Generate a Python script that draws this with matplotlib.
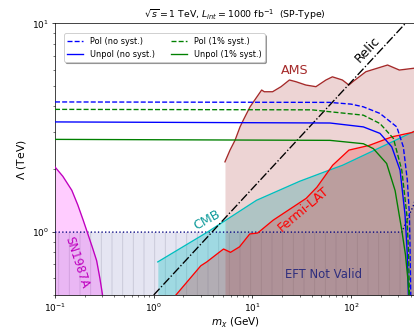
"""
Sensitivity reach on the EFT scale Lambda vs. dark matter mass, with
astrophysical / cosmological bounds overlaid.
"""

import numpy as np
import matplotlib
matplotlib.use("Agg")
import matplotlib.pyplot as plt
from matplotlib.ticker import NullFormatter

# ILC reach curves (m_chi in GeV, Lambda in TeV)
pol_nosyst_m = [0.1, 60, 100, 133, 196, 290, 338, 371, 389, 395, 402]
pol_nosyst_lam = [4.2, 4.18, 4.1, 3.98, 3.70, 3.19, 2.56, 1.77, 1.22, 0.85, 0.5]

unpol_nosyst_m = [0.1, 61, 133, 196, 258, 313, 351, 370, 380]
unpol_nosyst_lam = [3.37, 3.33, 3.19, 2.97, 2.56, 1.98, 1.22, 0.8, 0.5]

pol_syst_m = [0.1, 40, 61, 133, 196, 268, 326, 366, 382, 389]
pol_syst_lam = [3.87, 3.85, 3.77, 3.63, 3.31, 2.81, 1.98, 1.22, 0.8, 0.5]

unpol_syst_m = [0.1, 61, 133, 168, 229, 279, 326, 355, 375, 386]
unpol_syst_lam = [2.78, 2.75, 2.65, 2.51, 2.13, 1.58, 1.02, 0.78, 0.6, 0.5]

# EFT validity boundary
eft_m = [0.1, 326, 427, 444]
eft_lam = [1.0, 1.0, 1.34, 1.42]

# Bounds
sn_m = [0.1, 0.12, 0.148, 0.17, 0.193, 0.212, 0.24, 0.264, 0.285, 0.303]
sn_lam = [2.05, 1.85, 1.585, 1.35, 1.14, 1.0, 0.84, 0.73, 0.6, 0.5]

cmb_m = [1.1, 3.5, 11, 30, 60, 82, 200, 444]
cmb_lam = [0.72, 1.0, 1.42, 1.75, 1.98, 2.09, 2.55, 3.05]

fermi_m = [1.68, 3.0, 3.45, 4.6, 5.1, 6.0, 7.4, 9.4, 11.3, 16.2, 35, 45, 65, 95, 152, 260, 415, 444]
fermi_lam = [0.5, 0.69, 0.72, 0.80, 0.83, 0.80, 0.85, 0.98, 0.99, 1.14, 1.45, 1.64, 2.09, 2.47, 2.6, 2.86, 3.0, 3.05]

ams_m = [5.27, 5.93, 6.66, 7.49, 8.09, 9.46, 12.4, 13.2, 16.0, 19.5, 23.7, 27.6, 34.8,
         44, 55.6, 64.6, 81.5, 95, 104, 141, 234, 308, 420, 444]
ams_lam = [2.17, 2.47, 2.75, 3.19, 3.44, 3.98, 4.79, 4.70, 4.70, 4.97, 5.35, 5.25, 5.06,
           4.97, 5.35, 5.54, 5.35, 5.06, 5.25, 5.86, 6.31, 5.97, 6.08, 6.1]

# Relic abundance line
relic_m = np.array([1.0, 444.0])
relic_lam = 0.5 * relic_m ** 0.51

y_min, y_max = 0.5, 10
x_min, x_max = 0.1, 444

fig = plt.figure(figsize=(6.4, 5.102), dpi=64.6875)
ax = fig.add_axes([0.1329, 0.1061, 0.8696, 0.8233])
ax.set_xscale('log')
ax.set_yscale('log')

plt.rcParams['hatch.color'] = '#c8c8d8'
plt.rcParams['hatch.linewidth'] = 1.0

# EFT not valid region
ax.fill_between(eft_m, y_min, eft_lam, color='navy', alpha=0.1, lw=0, zorder=1)
ax.fill_between(eft_m, y_min, eft_lam, facecolor='none', edgecolor='#c8c8d8',
                hatch='|', lw=0, zorder=1)
ax.plot(eft_m, eft_lam, ':', color='navy', lw=1.5, zorder=3)

# SN1987A
ax.fill_between(sn_m, y_min, sn_lam, color='magenta', alpha=0.2, lw=0, zorder=1)
ax.plot(sn_m, sn_lam, color='m', lw=1.5, zorder=3)

# CMB
ax.fill_between(cmb_m, y_min, cmb_lam, color='c', alpha=0.3, lw=0, zorder=1)
ax.plot(cmb_m, cmb_lam, color='c', lw=1.5, zorder=3)

# Fermi-LAT
ax.fill_between(fermi_m, y_min, fermi_lam, color='r', alpha=0.2, lw=0, zorder=1)
ax.plot(fermi_m, fermi_lam, color='r', lw=1.5, zorder=3)

# AMS
ax.fill_between(ams_m, y_min, ams_lam, color='brown', alpha=0.2, lw=0, zorder=1)
ax.plot(ams_m, ams_lam, color='brown', lw=1.5, zorder=3)

# relic
ax.plot(relic_m, relic_lam, 'k-.', lw=1.5, zorder=3)

# reach curves
ax.plot(pol_nosyst_m, pol_nosyst_lam, 'b--', lw=1.5, label='Pol (no syst.)', zorder=4)
ax.plot(unpol_nosyst_m, unpol_nosyst_lam, 'b-', lw=1.5, label='Unpol (no syst.)', zorder=4)
ax.plot(pol_syst_m, pol_syst_lam, 'g--', lw=1.5, label='Pol (1% syst.)', zorder=4)
ax.plot(unpol_syst_m, unpol_syst_lam, 'g-', lw=1.5, label='Unpol (1% syst.)', zorder=4)

# labels
ax.text(145, 7.45, 'Relic', rotation=47, fontsize=14, ha='center', va='center')
ax.text(27, 5.97, 'AMS', color='brown', fontsize=14, ha='center', va='center')
ax.text(3.44, 1.147, 'CMB', color='#119c9c', rotation=29, fontsize=14, ha='center', va='center')
ax.text(32.6, 1.29, 'Fermi-LAT', color='r', rotation=40, fontsize=14, ha='center', va='center')
ax.text(0.166, 0.713, 'SN1987A', color='m', rotation=-72, fontsize=13, ha='center', va='center')
ax.text(51.9, 0.625, 'EFT Not Valid', color='#2e2e7e', fontsize=13, ha='center', va='center')

ax.set_xlim(x_min, x_max)
ax.set_ylim(y_min, y_max)
ax.yaxis.set_minor_formatter(NullFormatter())
ax.spines['right'].set_visible(False)

ax.set_xlabel(r'$m_\chi$ (GeV)', fontsize=11.5, labelpad=2)
ax.set_ylabel(r'$\Lambda$ (TeV)', fontsize=12)
ax.set_title(r'$\sqrt{s} = 1$ TeV, $L_{int} = 1000$ fb$^{-1}$  (SP-Type)', fontsize=10.5)

ax.legend(ncol=2, loc='upper left', bbox_to_anchor=(0.025, 0.963), borderaxespad=0,
          fontsize=9, shadow=True)

fig.savefig('out.png', dpi=64.6875)
